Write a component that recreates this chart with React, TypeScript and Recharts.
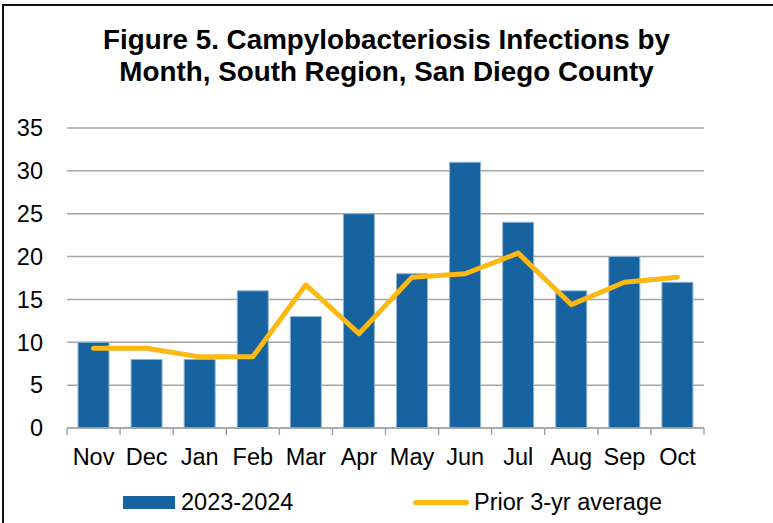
import React from 'react';
import { ComposedChart, Bar, Line, XAxis, YAxis, CartesianGrid, Legend } from 'recharts';

const months = ['Nov', 'Dec', 'Jan', 'Feb', 'Mar', 'Apr', 'May', 'Jun', 'Jul', 'Aug', 'Sep', 'Oct'];
const current = [10, 8, 8, 16, 13, 25, 18, 31, 24, 16, 20, 17];
const prior = [9.3, 9.3, 8.3, 8.3, 16.7, 11.0, 17.6, 18.0, 20.4, 14.4, 17.0, 17.6];
const yTicks = [0, 5, 10, 15, 20, 25, 30, 35];

const data = months.map((m, i) => ({ month: m, current: current[i], prior: prior[i] }));

const FONT = '"Liberation Sans", Arial, sans-serif';
const BLUE = '#1763A0';
const GOLD = '#FDB913';
const GRID = '#A6A6A6';

const LegendContent = () => (
  <div style={{ position: 'relative', width: 773, height: 38, fontFamily: FONT, fontSize: 23.5, color: '#000' }}>
    <div style={{ position: 'absolute', left: 123, top: 11, width: 52, height: 13, background: BLUE }} />
    <span style={{ position: 'absolute', left: 181, top: 2, lineHeight: '30px', whiteSpace: 'nowrap' }}>2023-2024</span>
    <div style={{ position: 'absolute', left: 413, top: 15, width: 56, height: 5, borderRadius: 3, background: GOLD }} />
    <span style={{ position: 'absolute', left: 474, top: 2, lineHeight: '30px', whiteSpace: 'nowrap' }}>Prior 3-yr average</span>
  </div>
);

const MonthTick = (props: any) => {
  const { x, y, payload } = props;
  const half = payload && payload.offset ? payload.offset : 0;
  const isLast = payload && payload.index === months.length - 1;
  return (
    <g>
      <line x1={x - half} x2={x - half} y1={y} y2={y + 7} stroke={GRID} strokeWidth={1.5} />
      {isLast && <line x1={x + half} x2={x + half} y1={y} y2={y + 7} stroke={GRID} strokeWidth={1.5} />}
      <text x={x} y={y + 20} dy="0.71em" textAnchor="middle" fill="#000" fontSize={23.5} fontFamily={FONT}>
        {payload.value}
      </text>
    </g>
  );
};

export default function App() {
  return (
    <div style={{ position: 'absolute', left: 0, top: 0, width: 773, height: 523, background: '#fff', overflow: 'hidden' }}>
      <div style={{ position: 'absolute', left: 2, top: 4, width: 771, height: 519, borderLeft: '2px solid #111', borderTop: '2px solid #111' }} />
      <div
        style={{
          position: 'absolute',
          left: 0,
          top: 24,
          width: 773,
          textAlign: 'center',
          fontFamily: FONT,
          fontWeight: 'bold',
          fontSize: 27.8,
          lineHeight: '32px',
          color: '#000',
        }}
      >
        Figure 5. Campylobacteriosis Infections by
        <br />
        Month, South Region, San Diego County
      </div>
      <div style={{ position: 'absolute', left: 0, top: 0 }}>
        <ComposedChart
          width={773}
          height={523}
          data={data}
          margin={{ top: 128, right: 69, bottom: 0, left: 0 }}
        >
          <CartesianGrid vertical={false} stroke={GRID} strokeWidth={1.5} />
          <XAxis
            dataKey="month"
            axisLine={{ stroke: GRID, strokeWidth: 1.5 }}
            tickLine={false}
            tickSize={0}
            tickMargin={0}
            height={57}
            interval={0}
            tick={<MonthTick />}
          />
          <YAxis
            domain={[0, 35]}
            ticks={yTicks}
            interval={0}
            axisLine={false}
            tickLine={false}
            tickSize={0}
            tickMargin={24}
            width={67}
            tick={{ fill: '#000', fontSize: 23.5, fontFamily: FONT }}
          />
          <Bar
            dataKey="current"
            name="2023-2024"
            fill={BLUE}
            stroke="#8DB3D6"
            strokeWidth={1}
            barSize={31}
            isAnimationActive={false}
          />
          <Line
            dataKey="prior"
            name="Prior 3-yr average"
            stroke={GOLD}
            strokeWidth={5}
            strokeLinecap="round"
            strokeLinejoin="round"
            dot={false}
            activeDot={false}
            type="linear"
            isAnimationActive={false}
          />
          <Legend verticalAlign="bottom" height={38} content={<LegendContent />} />
        </ComposedChart>
      </div>
    </div>
  );
}
